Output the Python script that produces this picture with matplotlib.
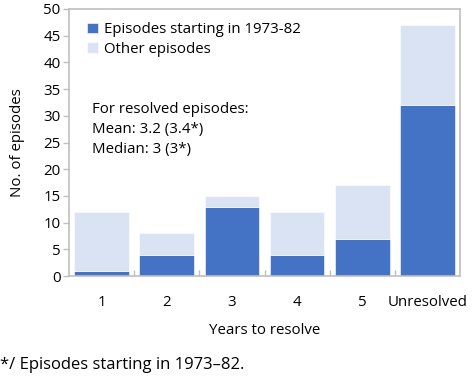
import matplotlib
matplotlib.use("Agg")
import matplotlib.pyplot as plt
import numpy as np

categories = ["1", "2", "3", "4", "5", "Unresolved"]
early = [1, 4, 13, 4, 7, 32]        # episodes starting in 1973-82
total = [12, 8, 15, 12, 17, 47]     # all episodes
other = [t - e for t, e in zip(total, early)]

dark = "#4472C4"
light = "#DAE3F3"
grey = "#BFBFBF"

plt.rcParams['font.family'] = ['Open Sans', 'DejaVu Sans']
plt.rcParams['font.size'] = 10.8

fig = plt.figure(figsize=(4.72, 3.82), dpi=100)
ax = fig.add_axes([69 / 472, 1 - 276 / 382, (460 - 69) / 472, (276 - 9) / 382])

x = np.arange(len(categories))
ax.bar(x, early, width=0.84, color=dark, edgecolor="white", linewidth=0.4,
       label="Episodes starting in 1973-82")
ax.bar(x, other, bottom=early, width=0.84, color=light, edgecolor="white",
       linewidth=0.4, label="Other episodes")

ax.set_xlim(-0.5, len(categories) - 0.5)
ax.set_ylim(0, 50)
ax.set_yticks(np.arange(0, 51, 5))
ax.set_xticks(x)
ax.set_xticklabels(categories)
ax.set_xticks(np.arange(0.5, len(categories) - 1, 1), minor=True)

for s in ax.spines.values():
    s.set_color(grey)
    s.set_linewidth(1.2)

ax.tick_params(axis="y", direction="out", length=4, color=grey, width=1, pad=2)
ax.tick_params(axis="x", which="major", length=0, pad=14)
ax.tick_params(axis="x", which="minor", direction="in", length=4, color=grey, width=1)

ax.set_xlabel("Years to resolve", labelpad=9)
ax.set_ylabel("No. of episodes", labelpad=13)

ax.legend(loc="upper left", frameon=False, handlelength=0.7, handleheight=0.7,
          handletextpad=0.4, labelspacing=0.3, borderaxespad=0.3,
          bbox_to_anchor=(0.02, 0.99))

ax.text(0.06, 0.65, "For resolved episodes:\nMean: 3.2 (3.4*)\nMedian: 3 (3*)",
        transform=ax.transAxes, va="top", ha="left", linespacing=1.45)

fig.text(0.0, 1 - 365 / 382, "*/ Episodes starting in 1973\u201382.",
         va="center", ha="left", fontsize=12)

fig.savefig("out.png", dpi=100)
